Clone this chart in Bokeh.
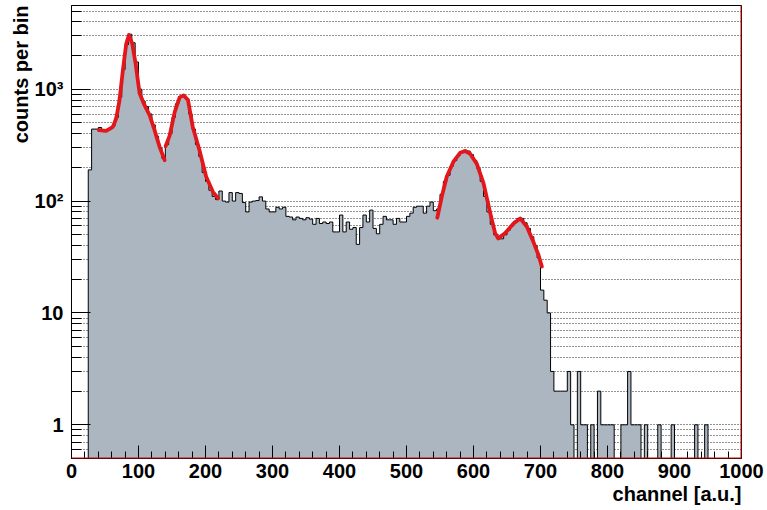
import numpy as np
from bokeh.plotting import figure
from bokeh.models import FixedTicker, Title, Span
from bokeh.embed import file_html
from bokeh.resources import INLINE

# ---------------- data ----------------
bin_width = 5  # channels per bin
counts = [
    0, 0, 0, 0, 0,
    190, 440, 440, 455, 430, 430, 440, 470, 560, 850, 1500, 2500, 3100, 2600, 1750,
    1000, 780, 700, 600, 480, 380, 300, 240, 320, 400, 560, 740, 860, 880, 820,
    600, 440, 320, 250, 180, 150, 125, 110, 103,
    123, 100, 98, 119, 100, 119, 117, 97, 80, 98, 100, 101, 109, 100, 85, 80, 80,
    88, 85, 88, 73, 72, 68, 72, 70, 68, 71, 69, 62,
    70, 63, 65, 63, 65, 53, 53, 75, 53, 65, 56, 58, 41, 58, 75, 65, 83, 57, 51, 62,
    73, 68, 68, 62, 70, 65, 65, 73, 78, 88, 90, 90, 78, 90, 98, 82,
    85, 115, 150, 170, 205, 230, 255, 275, 285, 280, 260, 230, 195, 150, 110, 80,
    62, 50, 46, 46, 50, 55, 60, 66, 70, 70, 64, 57, 48, 40, 31,
    16, 13, 10, 3, 2, 2, 2, 2, 3, 1, 0, 3, 1, 1, 0, 1, 0, 2, 1, 1, 1, 1, 0, 0, 1,
    1, 3, 1, 1, 1, 0, 1, 0, 0, 0, 1, 0, 0, 0, 1, 0, 0, 0, 0, 0, 0, 1, 0, 0, 1,
    0, 0, 0, 0, 0, 0, 0, 0, 0, 0,
]

fit1_x = [40.8, 51.8, 61.8, 66.8, 71.7, 76.7, 81.7, 85.7, 90.7, 95.7, 101.6, 109, 116.6, 124, 131.5, 139]
fit1_y = [430, 424, 460, 550, 800, 1480, 2550, 3050, 2550, 1690, 920, 720, 585, 430, 305, 232]

fit2_x = [140.5, 146.5, 154, 161.4, 167.4, 173.9, 181, 191, 201, 211, 218.7]
fit2_y = [310, 385, 625, 845, 880, 800, 460, 285, 165, 121, 106]

fit3_x = [546, 552.6, 560, 570, 580, 587.4, 595, 605, 615, 625, 632.3, 637, 647,
          659.7, 669.7, 679.7, 689.5, 697, 702]
fit3_y = [71, 109, 165, 225, 270, 280, 265, 215, 144, 78, 51.5, 46.4, 51.5,
          63, 70, 59, 43, 33, 26]

x_major_ticks = list(range(0, 1001, 100))
x_minor_ticks = list(range(0, 1001, 20))
y_major_ticks = [1, 10, 100, 1000]
y_minor_ticks = [k * 10.0 ** n for n in range(-1, 4) for k in range(2, 10)]
y_tick_labels = {1: "1", 10: "10", 100: "10²", 1000: "10³"}

# ---------------- figure ----------------
FONT = "Liberation Sans"
p = figure(width=767, height=510, x_range=(0, 1000), y_range=(0.5, 5600),
           y_axis_type="log", output_backend="svg", toolbar_location=None,
           min_border_left=71, min_border_right=26, min_border_top=5,
           min_border_bottom=52, background_fill_color="white",
           border_fill_color="white")

counts_arr = np.array(counts, dtype=float)
edges = np.arange(len(counts_arr) + 1) * bin_width
floor = 1e-2
tops = np.where(counts_arr > 0, counts_arr, floor)

# stairs outline of the histogram
sx = np.concatenate([[edges[0]], np.repeat(edges, 2)[1:-1], [edges[-1]]])
sy = np.concatenate([[floor], np.repeat(tops, 2), [floor]])

p.patch(sx, sy, fill_color="#abb6c1", line_color=None)
p.line(sx, sy, line_color="black", line_width=1)

for fx, fy in ((fit1_x, fit1_y), (fit2_x, fit2_y), (fit3_x, fit3_y)):
    p.line(fx, fy, line_color="#e3161b", line_width=3.8, line_join="round", line_cap="round")

# grids
p.xgrid.visible = False
p.ygrid.grid_line_color = "black"
p.ygrid.grid_line_dash = "1 2"
p.ygrid.grid_line_alpha = 0.85
p.ygrid.minor_grid_line_color = "black"
p.ygrid.minor_grid_line_dash = "1 2"
p.ygrid.minor_grid_line_alpha = 0.85

# axes
p.xaxis.ticker = FixedTicker(ticks=x_major_ticks, minor_ticks=x_minor_ticks)
p.yaxis.ticker = FixedTicker(ticks=y_major_ticks, minor_ticks=y_minor_ticks)
p.yaxis.major_label_overrides = y_tick_labels

for ax in (p.xaxis[0], p.yaxis[0]):
    ax.major_label_text_font = FONT
    ax.major_label_text_font_style = "bold"
    ax.major_label_text_font_size = "20px"
    ax.major_label_text_color = "black"
    ax.axis_line_color = "black"
    ax.major_tick_line_color = "black"
    ax.minor_tick_line_color = "black"
    ax.major_tick_out = 0
    ax.minor_tick_out = 0

p.xaxis.major_tick_in = 13
p.xaxis.minor_tick_in = 7
p.xaxis.major_label_standoff = 5
p.yaxis.major_tick_in = 19
p.yaxis.minor_tick_in = 10
p.yaxis.major_label_standoff = 8

p.outline_line_color = "black"
p.outline_line_width = 1

p.add_layout(Span(location=1000, dimension="height", line_color="#c01010", line_width=2))
p.add_layout(Span(location=0.5, dimension="width", line_color="#c01010", line_width=2))

p.add_layout(Title(text="channel [a.u.]", align="right", text_font=FONT,
                   text_font_style="bold", text_font_size="20px",
                   text_color="black", standoff=0, offset=0), "below")
p.add_layout(Title(text="counts per bin", align="right", text_font=FONT,
                   text_font_style="bold", text_font_size="20px",
                   text_color="black", standoff=0, offset=0), "left")

open("out.html", "w").write(file_html(p, INLINE))
